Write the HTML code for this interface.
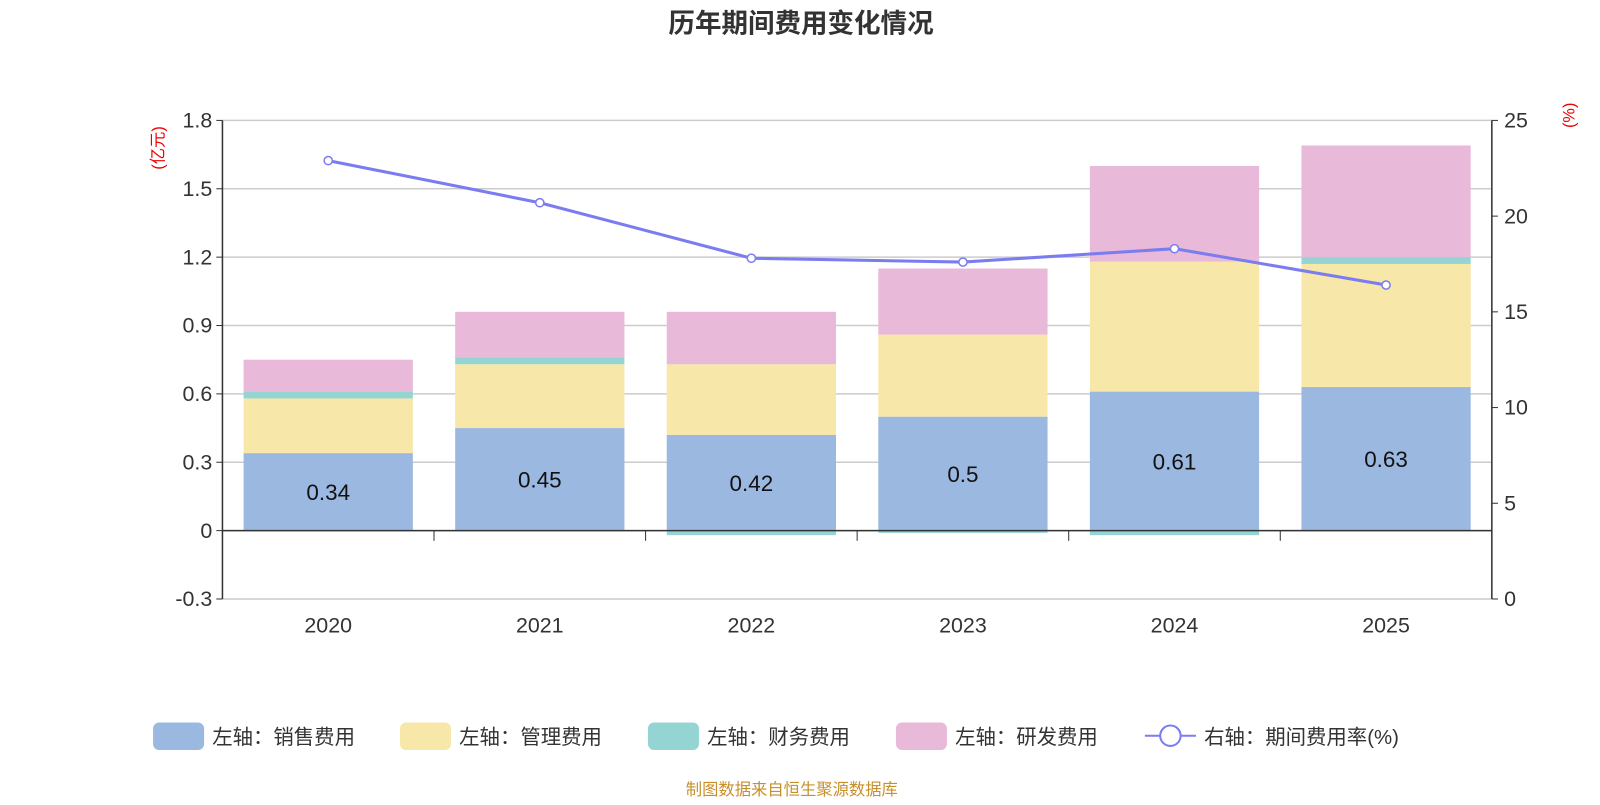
<!DOCTYPE html>
<html><head><meta charset="utf-8"><style>
body{margin:0;background:#fff;width:1600px;height:800px;overflow:hidden;font-family:"Liberation Sans","Noto Sans CJK SC",sans-serif}
</style></head><body>
<svg id="c" width="1600" height="800" viewBox="0 0 1568 784" xmlns="http://www.w3.org/2000/svg" font-family="Liberation Sans, Noto Sans CJK SC, sans-serif">
<text x="785" y="32" text-anchor="middle" font-size="26" font-weight="bold" fill="#333">历年期间费用变化情况</text>
<text x="160" y="145" font-size="16" fill="#e00" text-anchor="middle" transform="rotate(-90 160 145)">(亿元)</text>
<text x="1543" y="113" font-size="16" fill="#e00" text-anchor="middle" transform="rotate(-90 1543 113)">(%)</text>
<g id="grid"></g><g id="bars"></g><g id="axes"></g><g id="line"></g>
<g font-size="20" fill="#333">
<rect x="150" y="708" width="50" height="27" rx="6" fill="#9bb8e1"/>
<text x="208" y="729">左轴：销售费用</text>
<rect x="392" y="708" width="50" height="27" rx="6" fill="#f7e7a8"/>
<text x="450" y="729">左轴：管理费用</text>
<rect x="635" y="708" width="50" height="27" rx="6" fill="#94d5d4"/>
<text x="693" y="729">左轴：财务费用</text>
<rect x="878" y="708" width="50" height="27" rx="6" fill="#e8b9d9"/>
<text x="936" y="729">左轴：研发费用</text>
<line x1="1122" y1="721" x2="1172" y2="721" stroke="#7b7cf0" stroke-width="2"/>
<circle cx="1147" cy="721" r="10" fill="#fff" stroke="#7b7cf0" stroke-width="2"/>
<text x="1180" y="729">右轴：期间费用率(%)</text>
</g>
<text x="776" y="779" text-anchor="middle" font-size="16" fill="#c8902a">制图数据来自恒生聚源数据库</text>
</svg>
<script>
const years=["2020","2021","2022","2023","2024","2025"];
const sales=[0.34,0.45,0.42,0.5,0.61,0.63];
const mgmt=[0.24,0.28,0.31,0.36,0.57,0.54];
const finance=[0.03,0.03,-0.02,-0.01,-0.02,0.03];
const rd=[0.14,0.20,0.23,0.29,0.42,0.49];
const rate=[22.9,20.7,17.8,17.6,18.3,16.4];
const leftTicks=[-0.3,0,0.3,0.6,0.9,1.2,1.5,1.8];
const rightTicks=[0,5,10,15,20,25];
const NS="http://www.w3.org/2000/svg";
const X0=218,X1=1462,YT=118,YB=587;
const yL=v=>520-(v/1.8)*(520-YT);
const yR=v=>YB-(v/25)*(YB-YT);
const band=(X1-X0)/years.length;
const xc=i=>X0+band*(i+0.5);
function mk(t,a,p){const e=document.createElementNS(NS,t);for(const k in a)e.setAttribute(k,a[k]);p.appendChild(e);return e;}
const G=document.getElementById('grid'),B=document.getElementById('bars'),A=document.getElementById('axes'),L=document.getElementById('line');
leftTicks.forEach(t=>{
  const l=mk('line',{x1:X0,x2:X1,y1:yL(t),y2:yL(t),stroke:'#ccc','stroke-width':1.5},G);
  
  
  mk('line',{x1:X0-6,x2:X0,y1:yL(t),y2:yL(t),stroke:'#333'},A);
  const tx=mk('text',{x:X0-10,y:yL(t)+7,'text-anchor':'end','font-size':21,fill:'#333'},A);
  tx.textContent=String(t);
  
  
});
rightTicks.forEach(t=>{
  mk('line',{x1:X1,x2:X1+6,y1:yR(t),y2:yR(t),stroke:'#333'},A);
  const tx=mk('text',{x:X1+12,y:yR(t)+7,'font-size':21,fill:'#333'},A);
  tx.textContent=String(t);
  
  
});
const bw=band*0.8;
const series=[[sales,'#9bb8e1','bar-sales'],[mgmt,'#f7e7a8','bar-mgmt'],[finance,'#94d5d4','bar-finance'],[rd,'#e8b9d9','bar-rd']];
years.forEach((yr,i)=>{
  let pos=0,neg=0;
  series.forEach(([arr,col,nm])=>{
    const v=arr[i];let a,b;
    if(v>=0){a=pos;b=pos+v;pos=b;}else{a=neg+v;b=neg;neg=a;}
    const r=mk('rect',{x:xc(i)-bw/2,y:yL(b),width:bw,height:yL(a)-yL(b),fill:col},B);
    
    
  });
  const t=mk('text',{x:xc(i),y:yL(sales[i]/2)+8,'text-anchor':'middle','font-size':22,fill:'#111'},B);
  t.textContent=String(sales[i]);
  
  
  const xt=mk('text',{x:xc(i),y:620,'text-anchor':'middle','font-size':21,fill:'#333'},A);
  xt.textContent=yr;
  
  
  if(i>0){mk('line',{x1:X0+band*i,x2:X0+band*i,y1:520,y2:530,stroke:'#333'},A);}
});
mk('line',{x1:X0,x2:X0,y1:YT,y2:YB,stroke:'#333','stroke-width':1.5},A);
mk('line',{x1:X1,x2:X1,y1:YT,y2:YB,stroke:'#333','stroke-width':1.5},A);
mk('line',{x1:X0,x2:X1,y1:520,y2:520,stroke:'#333','stroke-width':1.5},A);
const pl=mk('polyline',{points:rate.map((v,i)=>xc(i)+','+yR(v)).join(' '),fill:'none',stroke:'#7b7cf0','stroke-width':3},L);


rate.forEach((v,i)=>{
  const c=mk('circle',{cx:xc(i),cy:yR(v),r:4,fill:'#fff',stroke:'#7b7cf0','stroke-width':1.5},L);
  
  
});
</script>
</body></html>
